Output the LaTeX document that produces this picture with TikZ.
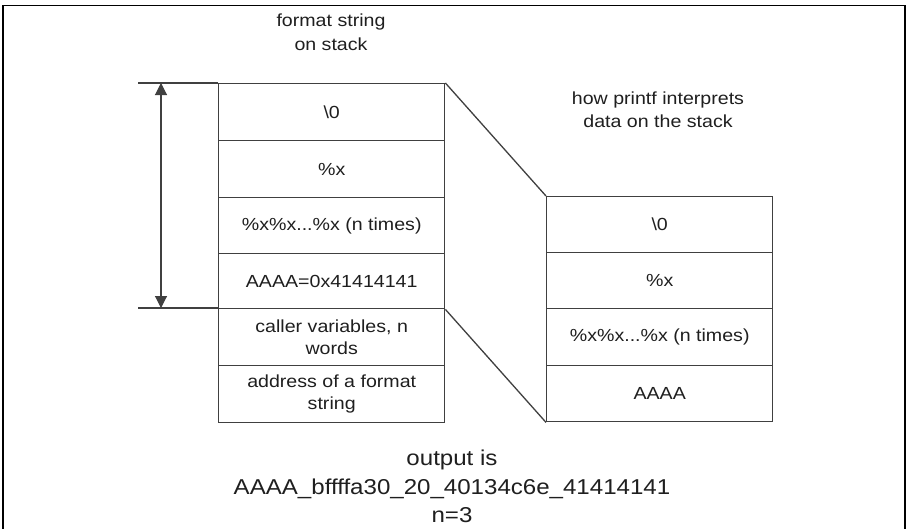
\documentclass[tikz,border=0pt]{standalone}
\usepackage{fontspec}
\setmainfont[FakeStretch=1.12]{Liberation Sans}
\usetikzlibrary{arrows.meta}
\begin{document}
\begin{tikzpicture}[x=1pt,y=-1pt,
  cell/.style={draw=black!75, line width=1.4pt, anchor=north west, minimum width=226pt,
    align=center, inner sep=0pt, font=\fontsize{17.5}{21.5}\selectfont, text=black!88},
  lbl/.style={align=center, inner sep=0pt, text=black!88},
  conn/.style={draw=black!75, line width=1.3pt},
  sizetip/.tip={Triangle[width=12pt,length=12pt]}]
\useasboundingbox (0,0) rectangle (910,528);
\fill[white] (0,0) rectangle (910,528);
% outer frame
\draw[line width=1.6pt, black] (3,530) -- (3,5.5) -- (905,5.5) -- (905,530);

% left stack (format string on stack)
\node[cell, minimum height=57pt] (l1) at (218,83)  {\textbackslash 0};
\node[cell, minimum height=57pt] (l2) at (218,140) {\%x};
\node[cell, minimum height=56pt] (l3) at (218,197) {\%x\%x...\%x (n times)};
\node[cell, minimum height=55pt] (l4) at (218,253) {AAAA=0x41414141};
\node[cell, minimum height=57pt] (l5) at (218,308) {caller variables, n\\words};
\node[cell, minimum height=57pt] (l6) at (218,365) {address of a format\\string};

% right stack (how printf interprets)
\node[cell, minimum height=56pt] (r1) at (546,196) {\textbackslash 0};
\node[cell, minimum height=56pt] (r2) at (546,252) {\%x};
\node[cell, minimum height=57pt] (r3) at (546,308) {\%x\%x...\%x (n times)};
\node[cell, minimum height=56pt] (r4) at (546,365) {AAAA};

% headings
\node[lbl, anchor=north, font=\fontsize{17.5}{23.3}\selectfont] (h1) at (331,14) {format string\\on stack};
\node[lbl, anchor=north, font=\fontsize{17.5}{23}\selectfont] (h2) at (658,92) {how printf interprets\\data on the stack};
\node[lbl, anchor=north, font=\fontsize{21.5}{28.5}\selectfont] (out) at (452,450) {output is\\AAAA\_bffffa30\_20\_40134c6e\_41414141\\n=3};

% extension lines and size arrow
\coordinate (tl) at (138,83);
\coordinate (bl) at (138,308);
\coordinate (atop) at (161,83);
\coordinate (abot) at (161,308);
\draw[conn] (tl) -- (l1.north west);
\draw[conn] (bl) -- (l5.north west);
\draw[conn, line width=1.1pt, sizetip-sizetip] (atop) -- (abot);

% zoom lines
\draw[conn] (l1.north east) -- (r1.north west);
\draw[conn] (l4.south east) -- (r4.south west);
\end{tikzpicture}
\end{document}
